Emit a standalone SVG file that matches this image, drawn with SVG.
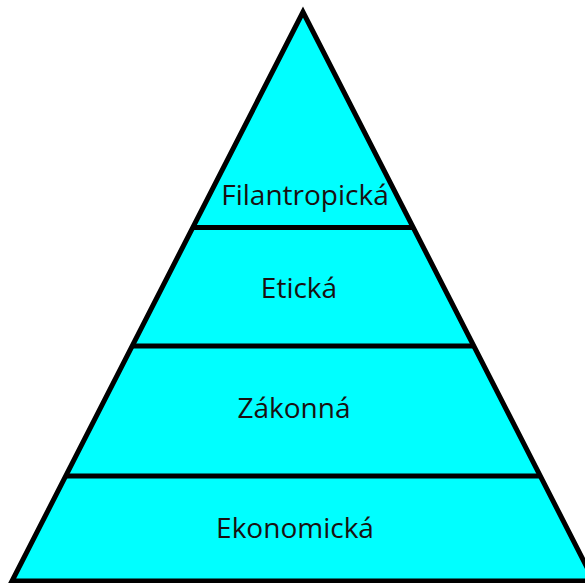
<svg xmlns="http://www.w3.org/2000/svg" width="585" height="583" viewBox="0 0 585 583">
  <style>
    .edge { stroke: #000; stroke-width: 5; fill: none; }
    .label { font-family: "Open Sans", "Noto Sans", sans-serif; font-size: 28px; fill: #1a1010; text-anchor: middle; }
  </style>
  <rect width="585" height="583" fill="#fff"/>
  <!-- pyramid body -->
  <polygon id="pyramid" points="303,12 12,581 594,581" fill="#00ffff" stroke="#000" stroke-width="5" stroke-linejoin="miter"/>
  <!-- level dividers -->
  <g id="dividers" class="edge">
    <line x1="194" y1="227.5" x2="412" y2="227.5"/>
    <line x1="133" y1="346" x2="473" y2="346"/>
    <line x1="67" y1="476" x2="539" y2="476"/>
  </g>
  <g id="level-filantropicka"><text class="label" x="305" y="205">Filantropická</text></g>
  <g id="level-eticka"><text class="label" x="299" y="298">Etická</text></g>
  <g id="level-zakonna"><text class="label" x="294" y="418">Zákonná</text></g>
  <g id="level-ekonomicka"><text class="label" x="295" y="538">Ekonomická</text></g>
</svg>
